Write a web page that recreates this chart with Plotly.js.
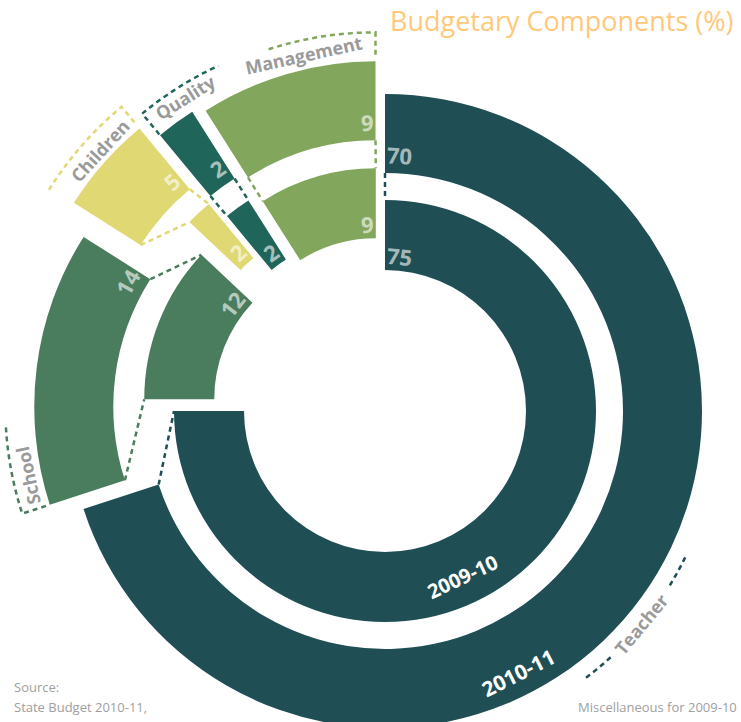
<!DOCTYPE html>
<html>
<head>
<meta charset="utf-8">
<script src="https://cdn.plot.ly/plotly-3.0.1.min.js"></script>
<style>
html,body{margin:0;padding:0;overflow:hidden;background:#fff;}
body{width:741px;height:722px;}
#chart{width:800px;height:800px;}
</style>
</head>
<body>
<div id="chart"></div>
<script>
// ---------- data ----------
const categories = ['Teacher', 'School', 'Children', 'Quality', 'Management'];
const values2009 = [75, 12, 2, 2, 9];   // inner ring
const values2010 = [70, 14, 5, 2, 9];   // outer ring
const yearLabels = ['2009-10', '2010-11'];
const titleText = 'Budgetary Components (%)';
const sourceLines = ['Source:', 'State Budget 2010-11,', 'PAB Minutes 2010-11 & 2011-12'];
const noteText = 'Miscellaneous for 2009-10';

// ---------- style ----------
const colors = ['#1f4f55', '#4a7d5d', '#e0d872', '#20655a', '#82a65c'];
const pullInnerPx = [0, 32, 61, 40, 33];
const pullOuterPx = [0, 34, 58, 39, 34];
const W = 800, H = 800;
const CX = 385, CY = 411;
const RING = { outer: { rOut: 317, rIn: 238 }, inner: { rOut: 211, rIn: 141 } };
const FONT = 'Open Sans, Noto Sans, sans-serif';
const labelStyle = {
  Teacher:    { theta: 129.7, r: 333, arcR: 334, arcs: [[116, 122], [137.5, 143.6]], tick: null },
  School:     { theta: 258,   r: 331, arcR: 346, arcs: [[252, 267]], tick: { at: 'start', r: 321 } },
  Children:   { theta: 312.5, r: 328, arcR: 345, arcs: [[302, 320.4]], tick: { at: 'end', r: 321 } },
  Quality:    { theta: 328,   r: 333, arcR: 345, arcs: [[320.4, 335.4]], tick: { at: 'start', r: 318 } },
  Management: { theta: 347.5, r: 331, arcR: 346, arcs: [[342, 360]], tick: { at: 'end', r: 322 } }
};

// ---------- helpers ----------
const rad = d => d * Math.PI / 180;
function polar(c, r, deg) { return [c[0] + r * Math.sin(rad(deg)), c[1] - r * Math.cos(rad(deg))]; }
function toPaper(p) { return [p[0] / W, 1 - p[1] / H]; }
function ringGeom(values, pullsPx) {
  const total = values.reduce((a, b) => a + b, 0);
  let cum = 0;
  return values.map((v, i) => {
    const a0 = 360 * cum / total; cum += v;
    const a1 = 360 * cum / total;
    const mid = (a0 + a1) / 2;
    return { a0, a1, mid, c: polar([CX, CY], pullsPx[i], mid) };
  });
}
function tangAngle(t) {
  t = ((t % 360) + 360) % 360;
  if (t > 100 && t < 250) return t - 180;
  return t > 180 ? t - 360 : t;
}
function pieTrace(values, ring, pullsPx, name) {
  const half = ring.rOut + Math.max(...pullsPx);
  return {
    type: 'pie', name, values, labels: categories, sort: false,
    direction: 'clockwise', rotation: 0,
    hole: ring.rIn / ring.rOut,
    pull: pullsPx.map(p => p / ring.rOut),
    marker: { colors, line: { width: 0 } },
    textinfo: 'none', hoverinfo: 'skip', showlegend: false,
    domain: { x: [(CX - half) / W, (CX + half) / W], y: [1 - (CY + half) / H, 1 - (CY - half) / H] }
  };
}

const gOut = ringGeom(values2010, pullOuterPx);
const gIn = ringGeom(values2009, pullInnerPx);

const shapes = [];
function dashPath(points, color) {
  const path = points.map((p, k) => { const q = toPaper(p); return (k ? 'L' : 'M') + q[0].toFixed(5) + ',' + q[1].toFixed(5); }).join(' ');
  shapes.push({ type: 'path', xref: 'paper', yref: 'paper', path, line: { color, width: 2.5, dash: '5px,4px' } });
}
function arcPts(c, r, a0, a1) {
  const n = Math.max(2, Math.ceil(Math.abs(a1 - a0) / 1.5));
  const pts = [];
  for (let k = 0; k <= n; k++) pts.push(polar(c, r, a0 + (a1 - a0) * k / n));
  return pts;
}

// connectors between rings
categories.forEach((cat, i) => {
  ['a0', 'a1'].forEach(k => {
    dashPath([polar(gOut[i].c, RING.outer.rIn, gOut[i][k]), polar(gIn[i].c, RING.inner.rOut, gIn[i][k])], colors[i]);
  });
});

const annotations = [];
function ann(text, p, opts) {
  const q = toPaper(p);
  annotations.push(Object.assign({ text, x: q[0], y: q[1], xref: 'paper', yref: 'paper', showarrow: false,
    xanchor: 'center', yanchor: 'middle' }, opts));
}

// category labels + brackets
categories.forEach((cat, i) => {
  const st = labelStyle[cat];
  const c = gOut[i].c;
  st.arcs.forEach(a => {
    let pts = arcPts(c, st.arcR, a[0], a[1]);
    if (st.tick && st.tick.at === 'start') pts = [polar(c, st.tick.r, a[0])].concat(pts);
    if (st.tick && st.tick.at === 'end') pts = pts.concat([polar(c, st.tick.r, a[1])]);
    dashPath(pts, colors[i]);
  });
  ann('<b>' + cat + '</b>', polar(c, st.r, st.theta),
    { textangle: tangAngle(st.theta), font: { family: FONT, size: 18, color: '#9a9a9a' } });
});

// value labels
function valueLabels(values, geom, ring, rVal, fontSize) {
  values.forEach((v, i) => {
    const txt = String(v);
    const hw = txt.length * 0.29 * fontSize + 2;
    const dA = hw / rVal * 180 / Math.PI;
    const th = i === 0 ? geom[i].a0 + dA : geom[i].a1 - dA;
    ann('<b>' + txt + '</b>', polar(geom[i].c, rVal, th),
      { textangle: tangAngle(th), font: { family: FONT, size: fontSize, color: 'rgba(255,255,255,0.62)' } });
  });
}
valueLabels(values2010, gOut, RING.outer, 256, 22);
valueLabels(values2009, gIn, RING.inner, 156, 22);

// year labels
ann('<b>' + yearLabels[0] + '</b>', polar(gIn[0].c, 183, 154.8), { textangle: tangAngle(154.8), font: { family: FONT, size: 20, color: '#ffffff' } });
ann('<b>' + yearLabels[1] + '</b>', polar(gOut[0].c, 294, 153.1), { textangle: tangAngle(153.1), font: { family: FONT, size: 21, color: '#ffffff' } });

// title and notes
ann(titleText, [388, 21], { xanchor: 'left', font: { family: FONT, size: 27, color: '#ffc87a' } });
sourceLines.forEach((t, k) => ann(t, [12, 687 + k * 19.5], { xanchor: 'left', font: { family: FONT, size: 13, color: '#a0a0a0' } }));
ann(noteText, [576, 707], { xanchor: 'left', font: { family: FONT, size: 13, color: '#a0a0a0' } });

const data = [pieTrace(values2010, RING.outer, pullOuterPx, '2010-11'), pieTrace(values2009, RING.inner, pullInnerPx, '2009-10')];
const layout = {
  width: W, height: H, margin: { l: 0, r: 0, t: 0, b: 0, pad: 0 },
  paper_bgcolor: '#ffffff', plot_bgcolor: '#ffffff', showlegend: false,
  shapes, annotations
};
Plotly.newPlot('chart', data, layout, { staticPlot: true, displayModeBar: false });
</script>
</body>
</html>
